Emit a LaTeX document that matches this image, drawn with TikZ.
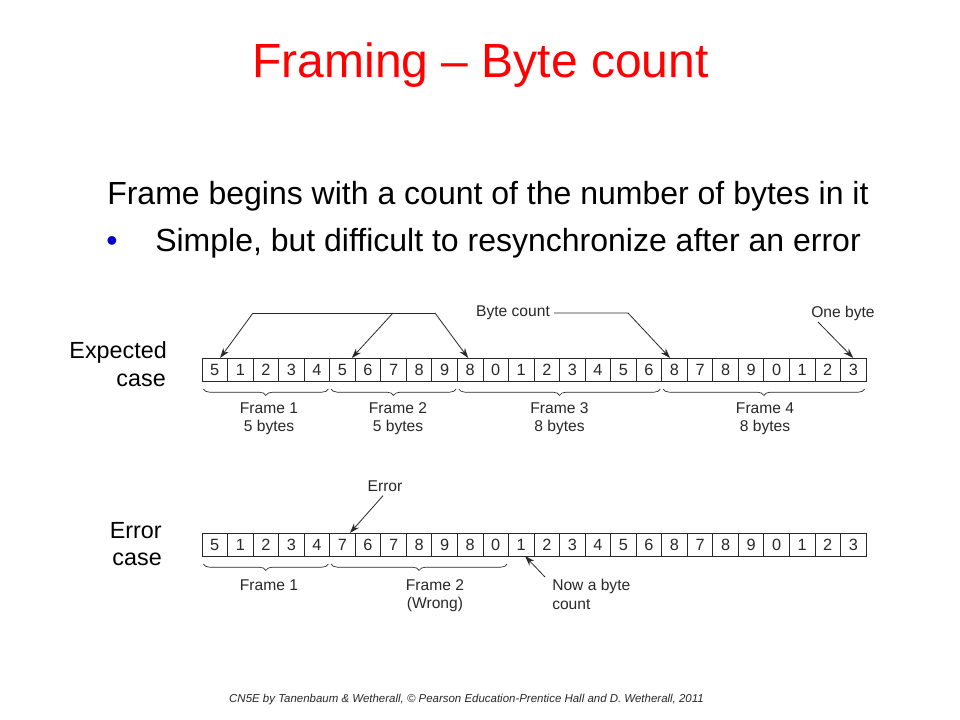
\documentclass[tikz,border=0pt]{standalone}
\usepackage{fontspec}
\setmainfont{Liberation Sans}
\usetikzlibrary{decorations.pathreplacing,arrows.meta,calc}
\definecolor{titlered}{RGB}{255,0,0}
\definecolor{bulletblue}{RGB}{0,0,204}
\definecolor{ink}{RGB}{40,40,40}
\begin{document}
\begin{tikzpicture}[x=0.75pt,y=-0.75pt,
  cell/.style={draw=ink,line width=0.6pt,minimum width=19.155pt,minimum height=17.25pt,inner sep=0pt,outer sep=0pt,font=\fontsize{12.2}{14}\selectfont,text=ink},
  arr/.style={draw=ink,line width=0.6pt,-{Stealth[length=7.5pt,width=5pt]}},
  ln/.style={draw=ink,line width=0.6pt},
  brace/.style={draw=ink,line width=0.5pt,decorate,decoration={brace,mirror,amplitude=4.8pt}},
  lbl/.style={font=\fontsize{11.7}{13.9}\selectfont,text=ink,inner sep=0pt,align=center},
  side/.style={font=\fontsize{17.5}{21}\selectfont,inner sep=0pt,anchor=base east},
  body/.style={font=\fontsize{24}{29}\selectfont,inner sep=0pt,anchor=base west}]
\useasboundingbox (0,0) rectangle (960,720);
\fill[white] (0,0) rectangle (960,720);

\node[anchor=base,text=titlered,font=\fontsize{36}{43}\selectfont,inner sep=0pt] (title) at (480.5,78) {Framing – Byte count};
\node[body] (l1) at (107,205) {Frame begins with a count of the number of bytes in it};
\node[body,text=bulletblue] (bul) at (106,252) {•};
\node[body] (l2) at (155,252) {Simple, but difficult to resynchronize after an error};

\node[side] (exp1) at (167,358) {Expected};
\node[side] (exp2) at (166,386) {case};
\node[side] (err1) at (162,538) {Error};
\node[side] (err2) at (162,565) {case};

\foreach \d [count=\i] in {5,1,2,3,4,5,6,7,8,9,8,0,1,2,3,4,5,6,8,7,8,9,0,1,2,3}
  \node[cell] (e\i) at ({202+(\i-0.5)*25.54},369.5) {\d};
\foreach \d [count=\i] in {5,1,2,3,4,7,6,7,8,9,8,0,1,2,3,4,5,6,8,7,8,9,0,1,2,3}
  \node[cell] (r\i) at ({202+(\i-0.5)*25.54},544.5) {\d};

% braces expected case
\draw[brace] ([xshift=1pt,yshift=-6pt]e1.south west) -- ([xshift=-1pt,yshift=-6pt]e5.south east);
\draw[brace] ([xshift=1pt,yshift=-6pt]e6.south west) -- ([xshift=-1pt,yshift=-6pt]e10.south east);
\draw[brace] ([xshift=1pt,yshift=-6pt]e11.south west) -- ([xshift=-1pt,yshift=-6pt]e18.south east);
\draw[brace] ([xshift=1pt,yshift=-6pt]e19.south west) -- ([xshift=-1pt,yshift=-6pt]e26.south east);
% braces error case
\draw[brace] ([xshift=1pt,yshift=-6pt]r1.south west) -- ([xshift=-1pt,yshift=-6pt]r5.south east);
\draw[brace] ([xshift=1pt,yshift=-6pt]r6.south west) -- ([xshift=-1pt,yshift=-6pt]r12.south east);

\node[lbl,anchor=north] (f1) at (269,402) {Frame 1\\5 bytes};
\node[lbl,anchor=north] (f2) at (398,402) {Frame 2\\5 bytes};
\node[lbl,anchor=north] (f3) at (559.5,402) {Frame 3\\8 bytes};
\node[lbl,anchor=north] (f4) at (765,402) {Frame 4\\8 bytes};

\node[lbl,anchor=north] (g1) at (269,579) {Frame 1};
\node[lbl,anchor=north] (g2) at (435,579) {Frame 2\\(Wrong)};

% byte count arrows
\node[lbl,inner sep=3pt] (bc) at (513,313) {Byte count};
\coordinate (bcL) at (253,313);
\coordinate (bcM) at (393,313);
\coordinate (bcR) at (435,313);
\coordinate (bcT) at (628,313);
\draw[ln] (bcL) -- (bcR);
\draw[arr] (bcL) -- ([xshift=4pt]e1.north);
\draw[arr] (bcM) -- ([xshift=7pt]e6.north);
\draw[arr] (bcR) -- ([xshift=-1.5pt]e11.north);
\draw[arr] (bc.east) -- (bcT) -- ([xshift=-3.3pt]e19.north);

\node[lbl] (ob) at (843,313) {One byte};
\coordinate (obs) at (818,322);
\draw[arr] (obs) -- (e26.north);

\node[lbl,inner sep=3pt] (err) at (385,486) {Error};
\draw[arr] ([xshift=-1.5pt]err.south) -- ([xshift=5.6pt]r6.north);

\node[lbl,align=left,anchor=north west] (nab) at (552,579) {Now a byte\\count};
\coordinate (nabs) at (545,577);
\draw[arr] (nabs) -- ([xshift=2.8pt]r13.south);

\node[anchor=base,font=\fontsize{8.6}{10}\selectfont\itshape,inner sep=0pt,text=ink] (foot) at (466.5,702) {CN5E by Tanenbaum \& Wetherall, © Pearson Education-Prentice Hall and D. Wetherall, 2011};
\end{tikzpicture}
\end{document}
